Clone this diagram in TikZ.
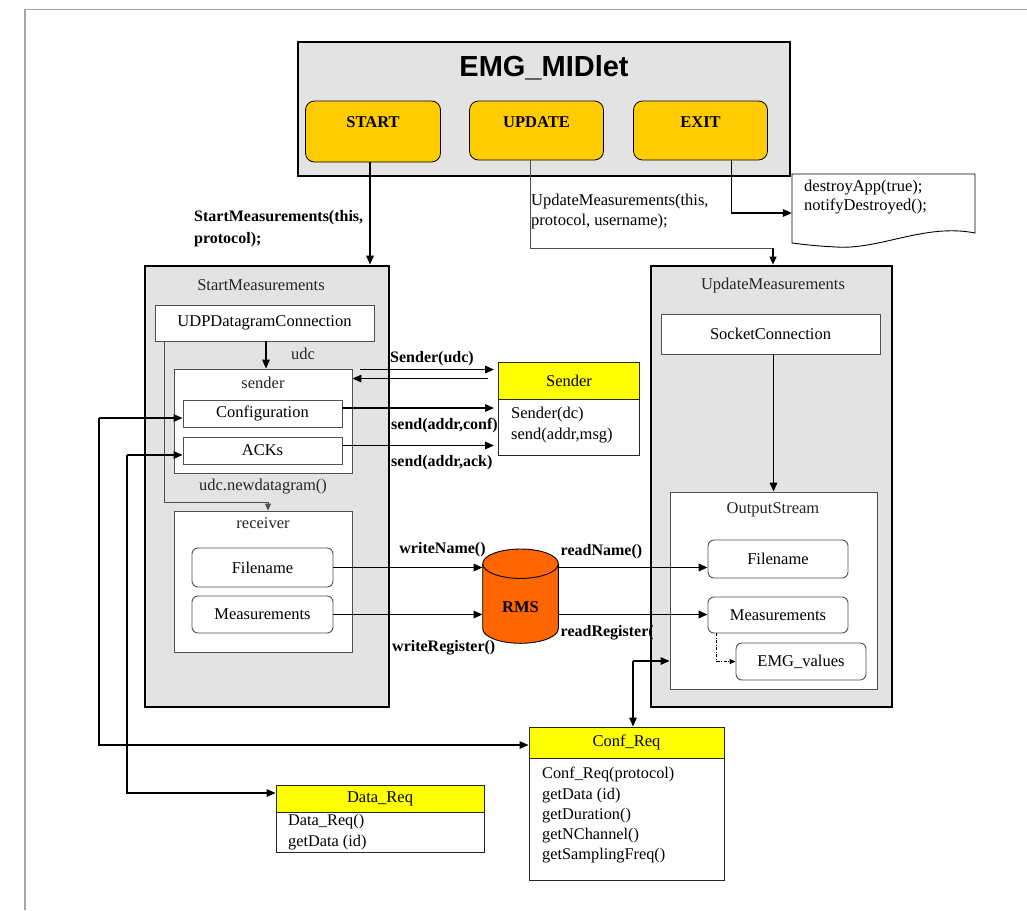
\documentclass[tikz,border=0pt]{standalone}
\usepackage{fontspec}
\setmainfont{Liberation Serif}
\newfontfamily\headfont{Liberation Sans}
\usetikzlibrary{arrows.meta}

\definecolor{panel}{HTML}{E3E3E3}
\definecolor{btn}{HTML}{FFCC00}
\definecolor{hdr}{HTML}{FFFF00}
\definecolor{rmsc}{HTML}{FF6600}
\definecolor{framec}{HTML}{A0A6AA}
\definecolor{edge}{HTML}{505050}

\begin{document}
\begin{tikzpicture}[x=1pt,y=-1pt,
  panelbox/.style={draw=black,line width=2.8pt,fill=panel,inner sep=0pt},
  inbox/.style={draw=edge,line width=0.9pt,fill=white,inner sep=0pt,font=\fontsize{16.5}{19}\selectfont},
  rbox/.style={inbox,rounded corners=6pt},
  btnbox/.style={draw=black,line width=0.8pt,fill=btn,rounded corners=9pt,inner sep=0pt},
  hdrbox/.style={draw=black!85,line width=0.9pt,fill=hdr,inner sep=0pt,font=\fontsize{16.5}{19}\selectfont},
  bodybox/.style={draw=black!85,line width=0.9pt,fill=white,inner sep=0pt},
  ttl/.style={font=\fontsize{16.5}{19}\selectfont,text=black!85,inner sep=0pt},
  lbl/.style={font=\bfseries\fontsize{16}{22}\selectfont,inner sep=0pt,align=left},
  plainlbl/.style={font=\fontsize{16.5}{20}\selectfont,inner sep=0pt,align=left},
  btntxt/.style={font=\bfseries\fontsize{16.5}{19}\selectfont,inner sep=0pt},
  bodytxt/.style={font=\fontsize{16.3}{20.25}\selectfont,inner sep=0pt,align=left,anchor=west},
  tip/.style={-{Triangle[length=9pt,width=7.5pt]}},
  arr/.style={line width=1.7pt,tip},
  link/.style={line width=1.3pt},
  thinln/.style={draw=edge,line width=1pt},
]
\useasboundingbox (0,0) rectangle (1027,910);
\fill[white] (0,0) rectangle (1027,910);

% page frame
\draw[framec,line width=1.8pt] (25,910) -- (25,9.5) -- (1027,9.5);

% ---------- MIDlet with its three commands ----------
\node[panelbox,minimum width=492,minimum height=134] (midlet) at (544,109) {};
\node[font=\headfont\bfseries\fontsize{29}{32}\selectfont,inner sep=0pt] (mtitle) at (544,68) {EMG\_MIDlet};
\node[btnbox,minimum width=135,minimum height=61] (start) at (373,131.5) {};
\node[btnbox,minimum width=134,minimum height=59] (update) at (536.5,130.5) {};
\node[btnbox,minimum width=134,minimum height=59] (exit) at (700.5,130.5) {};
\node[btntxt] (starttxt) at (373,122) {START};
\node[btntxt] (updatetxt) at (536.5,122) {UPDATE};
\node[btntxt] (exittxt) at (700.5,122) {EXIT};

% ---------- StartMeasurements ----------
\node[panelbox,minimum width=244,minimum height=441] (sm) at (267,486.5) {};
\node[ttl] (smt) at (261,285) {StartMeasurements};
\node[inbox,minimum width=219,minimum height=36] (udp) at (264.5,323) {UDPDatagramConnection};
\node[inbox,minimum width=178,minimum height=104] (snd) at (263,421) {};
\node[ttl] (sndt) at (263,383) {sender};
\node[inbox,minimum width=159,minimum height=27] (conf) at (262.5,413.5) {Configuration};
\node[inbox,minimum width=159,minimum height=27] (acks) at (262.5,450.5) {ACKs};
\node[inbox,minimum width=178,minimum height=141] (rcv) at (263,581.5) {};
\node[ttl] (rcvt) at (263,523) {receiver};
\node[rbox,minimum width=141,minimum height=39] (fname) at (262.5,567.5) {Filename};
\node[rbox,minimum width=141,minimum height=37] (meas) at (262.5,614.5) {Measurements};

% ---------- UpdateMeasurements ----------
\node[panelbox,minimum width=241,minimum height=441] (um) at (771.5,486.5) {};
\node[ttl] (umt) at (773,286) {UpdateMeasurements};
\node[inbox,minimum width=219,minimum height=40] (sock) at (770.5,334) {SocketConnection};
\node[inbox,minimum width=207,minimum height=197] (os) at (773.5,590.5) {};
\node[ttl] (ost) at (773,510) {OutputStream};
\node[rbox,minimum width=140,minimum height=38] (fname2) at (778,559) {Filename};
\node[rbox,minimum width=140,minimum height=36] (meas2) at (778,615) {Measurements};
\node[rbox,minimum width=130,minimum height=37] (emg) at (801,661.5) {EMG\_values};

% ---------- classes ----------
\node[hdrbox,minimum width=141,minimum height=37] (sendh) at (569,380.5) {Sender};
\node[bodybox,minimum width=141,minimum height=56] (sendb) at (569,427) {};
\node[font=\fontsize{16.5}{20.7}\selectfont,align=left,anchor=west,inner sep=0pt] (sendbt) at (511,425) {Sender(dc)\\send(addr,msg)};

\node[hdrbox,minimum width=195,minimum height=31] (creqh) at (626.5,742.5) {Conf\_Req};
\node[bodybox,minimum width=195,minimum height=122] (creqb) at (626.5,819) {};
\node[bodytxt] (creqt) at (542,815.5) {Conf\_Req(protocol)\\getData (id)\\getDuration()\\getNChannel()\\getSamplingFreq()};

\node[hdrbox,minimum width=208,minimum height=27] (dreqh) at (380,798.5) {Data\_Req};
\node[bodybox,minimum width=208,minimum height=40] (dreqb) at (380,832) {};
\node[bodytxt] (dreqt) at (288,832) {Data\_Req()\\getData (id)};

% ---------- exit note ----------
\node[minimum width=183,minimum height=78,inner sep=0pt] (note) at (883.5,213) {};
\draw[line width=0.9pt,fill=white] (792,174) -- (975,174) -- (975,233)
  .. controls (925,223) and (880,250) .. (836,247)
  .. controls (815,246) and (800,244) .. (792,243) -- cycle;
\node[font=\fontsize{16.5}{19}\selectfont,align=left,anchor=west,inner sep=0pt] (notet) at (804,197.5) {destroyApp(true);\\notifyDestroyed();};

% ---------- record store ----------
\node[inner sep=0pt,minimum width=75.6,minimum height=94.3] (rms) at (520.5,596.2) {};
\filldraw[fill=rmsc,line width=0.9pt] (482.7,563.7) -- (482.7,628.6)
  arc[start angle=180,end angle=360,x radius=37.8pt,y radius=14.7pt] -- (558.3,563.7)
  arc[start angle=0,end angle=180,x radius=37.8pt,y radius=14.7pt] -- cycle;
\draw[line width=0.9pt] (482.7,563.7) arc[start angle=180,end angle=360,x radius=37.8pt,y radius=14.7pt];
\node[font=\bfseries\fontsize{16.5}{19}\selectfont,inner sep=0pt] (rmst) at (520.5,607) {RMS};

% ---------- connectors ----------
\coordinate (sx) at (494,0);
\coordinate (lx1) at (99,0);
\coordinate (lx2) at (127,0);
\coordinate (uturn) at (773,248);
\coordinate (ndg) at (268,502);
\coordinate (rc) at (633,661);

\draw[arr] ([xshift=-3]start.south) -- ([xshift=-3]start.south |- sm.north);
\node[lbl,anchor=west] (startlbl) at (194,229) {StartMeasurements(this,\\protocol);};

\draw[thinln] ([xshift=-6.5]update.south) |- (uturn);
\draw[line width=1.2pt,-{Triangle[length=8pt,width=7pt]}] (uturn) -- (uturn |- um.north);
\node[plainlbl,anchor=west] (updlbl) at (531,211.5) {UpdateMeasurements(this,\\protocol, username);};

\draw[arr] ([xshift=31]exit.south) |- (note.west);

\draw[arr] ([xshift=1.5]udp.south) -- ([xshift=1.5]udp.south |- snd.north);
\node[ttl] (udclbl) at (303,354) {udc};

\draw[thinln,-{Triangle[length=7pt,width=6pt]}] ([xshift=9.5]udp.south west) |- (ndg) -- (ndg |- rcv.north);
\node[ttl] (ndglbl) at (263,487) {udc.newdatagram()};

\draw[arr] ([xshift=8,yshift=-1]snd.north east) -- ([yshift=-1]snd.north east -| sx);
\draw[arr] ([xshift=-6,yshift=-10]snd.north east -| sx) -- ([yshift=-10]snd.north east);
\node[lbl] (sudclbl) at (432,359) {Sender(udc)};

\draw[arr] ([yshift=5.5]conf.east) -- ([yshift=5.5]conf.east -| sx);
\node[lbl,anchor=west] (sconflbl) at (391,425.5) {send(addr,conf)};
\draw[arr] ([yshift=5]acks.east) -- ([yshift=5]acks.east -| sx);
\node[lbl,anchor=west] (sacklbl) at (391,462.5) {send(addr,ack)};

\draw[link,tip] ([yshift=-4.5]conf.west -| lx1) -- ([yshift=-4.5]conf.west);
\draw[link,tip] ([yshift=-4.5]conf.west -| lx1) |- ([yshift=-2.5]creqh.west);
\draw[link,tip] ([yshift=-4.5]acks.west -| lx2) -- ([yshift=-4.5]acks.west);
\draw[link,tip] ([yshift=-4.5]acks.west -| lx2) |- ([yshift=5.5]dreqh.west);

\draw[arr] (fname.east) -- (fname.east -| rms.west);
\draw[arr] (meas.east) -- (meas.east -| rms.west);
\node[lbl] (wnlbl) at (442.5,550) {writeName()};
\node[lbl,anchor=west] (wrlbl) at (392,648) {writeRegister()};

\draw[arr] (fname.east -| rms.east) -- (fname.east -| fname2.west);
\draw[arr] (meas.east -| rms.east) -- (meas.east -| meas2.west);
\node[lbl,anchor=west] (rnlbl) at (560.5,551.5) {readName()};
\node[lbl,anchor=west] (rrlbl) at (560.5,633) {readRegister(};

\draw[arr] (os.north |- sock.south) -- (os.north);

\draw[line width=1pt,dash pattern=on 3pt off 1.5pt on 1pt off 1.5pt,-{Triangle[length=6pt,width=5pt]}] ([xshift=9]meas2.south west) |- (emg.west);

\draw[link,tip] (rc) -- (rc -| os.west);
\draw[link,tip] (rc) -- (rc |- creqh.north);
\end{tikzpicture}
\end{document}
